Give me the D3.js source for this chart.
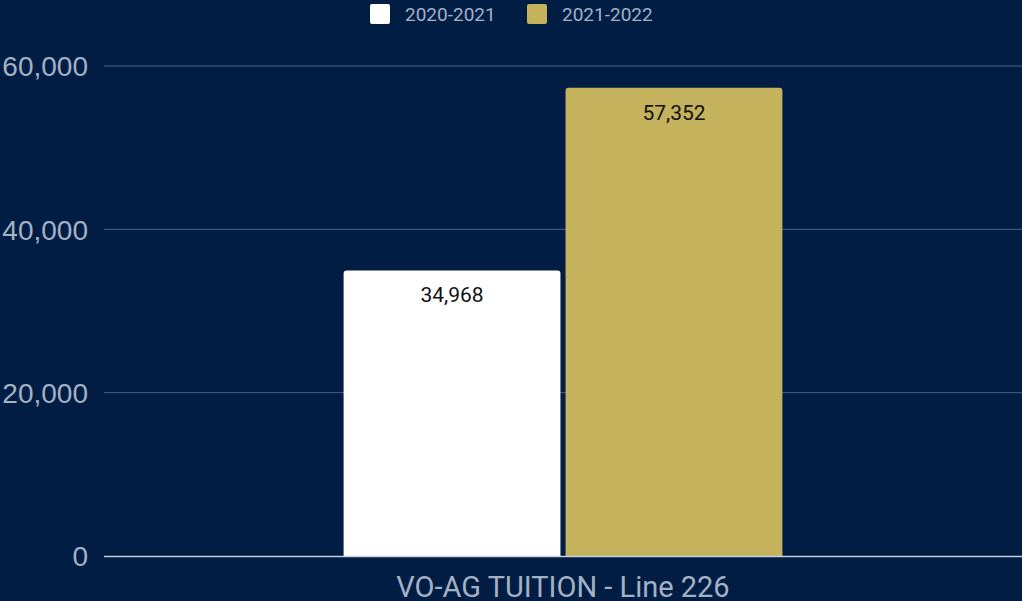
<!DOCTYPE html>
<html>
<head>
<meta charset="utf-8">
<script src="https://cdn.jsdelivr.net/npm/d3@7"></script>
<style>
  html, body { margin: 0; padding: 0; background: #011d43; overflow: hidden; }
  svg { display: block; font-family: Roboto, "Noto Sans", sans-serif; }
</style>
</head>
<body>
<svg id="chart" width="1022" height="601"></svg>
<script>
// Chart data
const categories = ["VO-AG TUITION - Line 226"];
const seriesNames = ["2020-2021", "2021-2022"];
const seriesValues = [[34968], [57352]];
const seriesColors = ["#ffffff", "#c4b35c"];
const yTicks = [0, 20000, 40000, 60000];

const W = 1022, H = 601;
const margin = { top: 66, right: 0, bottom: 45, left: 104 };
const svg = d3.select("#chart");
svg.append("rect").attr("width", W).attr("height", H).attr("fill", "#011d43");

const x0 = d3.scaleBand().domain(categories).range([margin.left, W - margin.right]).paddingInner(0).paddingOuter(0);
const innerPad = 0.261;
const x1 = d3.scaleBand().domain(seriesNames)
  .range([x0.bandwidth() * innerPad, x0.bandwidth() * (1 - innerPad)]).paddingInner(0.023);
const y = d3.scaleLinear().domain([0, 60000]).range([H - margin.bottom, margin.top]);

// gridlines
svg.append("g").selectAll("line").data(yTicks.filter(t => t > 0)).join("line")
  .attr("x1", margin.left).attr("x2", W)
  .attr("y1", d => y(d)).attr("y2", d => y(d))
  .attr("stroke", "#4c6281").attr("stroke-width", 1);

// y axis labels
const yAxis = d3.axisLeft(y).tickValues(yTicks).tickFormat(d3.format(",")).tickSize(0).tickPadding(16);
const gy = svg.append("g").attr("transform", `translate(${margin.left},0)`).call(yAxis);
gy.select(".domain").remove();
gy.selectAll("text").attr("fill", "#a3b1c5").style("font-size", "28px").attr("dy", "0.35em");

// bars
const rr = 3;
function topRounded(x, yt, w, h, r) {
  return `M${x},${yt + h}V${yt + r}Q${x},${yt} ${x + r},${yt}H${x + w - r}Q${x + w},${yt} ${x + w},${yt + r}V${yt + h}Z`;
}
const groups = svg.append("g").selectAll("g").data(categories).join("g")
  .attr("transform", d => `translate(${x0(d)},0)`);
seriesNames.forEach((s, si) => {
  groups.append("path")
    .attr("d", (d, ci) => {
      const v = seriesValues[si][ci];
      return topRounded(x1(s), y(v), x1.bandwidth(), y(0) - y(v), rr);
    })
    .attr("fill", seriesColors[si]);
  groups.append("text")
    .attr("x", x1(s) + x1.bandwidth() / 2)
    .attr("y", (d, ci) => y(seriesValues[si][ci]) + 32)
    .attr("text-anchor", "middle")
    .attr("fill", "#111111")
    .style("font-size", "21px")
    .text((d, ci) => d3.format(",")(seriesValues[si][ci]));
});

// x axis line
svg.append("line").attr("x1", margin.left).attr("x2", W)
  .attr("y1", y(0) + 0.5).attr("y2", y(0) + 0.5)
  .attr("stroke", "#c5cedb").attr("stroke-width", 1.5);

// category label
svg.append("g").selectAll("text").data(categories).join("text")
  .attr("x", d => x0(d) + x0.bandwidth() / 2)
  .attr("y", 597)
  .attr("text-anchor", "middle")
  .attr("fill", "#a3b1c5")
  .style("font-size", "29px")
  .text(d => d);

// legend
const legendX = [370, 527];
const lg = svg.append("g").selectAll("g").data(seriesNames).join("g")
  .attr("transform", (d, i) => `translate(${legendX[i]},4)`);
lg.append("rect").attr("width", 20).attr("height", 20).attr("rx", 2)
  .attr("fill", (d, i) => seriesColors[i]);
lg.append("text").attr("x", 35).attr("y", 17)
  .attr("fill", "#a3b1c5").style("font-size", "19px").text(d => d);
</script>
</body>
</html>
